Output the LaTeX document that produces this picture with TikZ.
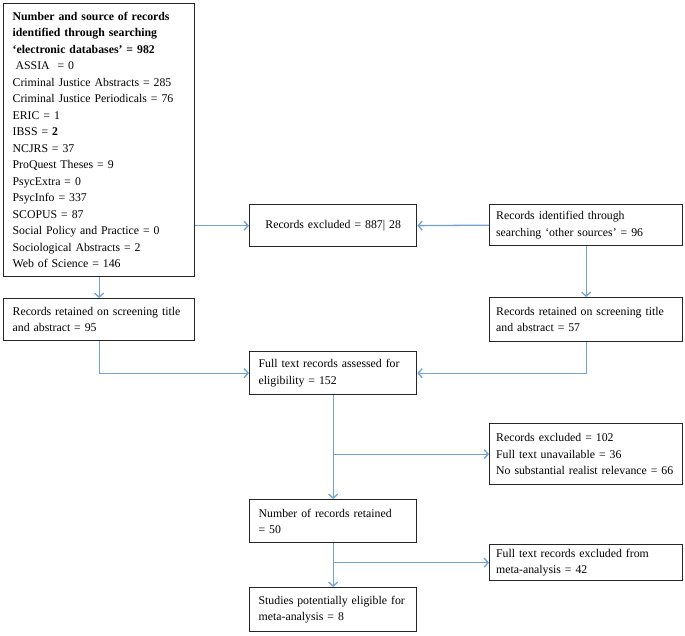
\documentclass[tikz,border=0pt]{standalone}
\usepackage{fontspec}
\setmainfont{Liberation Serif}
\usetikzlibrary{arrows.meta, positioning}
\definecolor{flowblue}{RGB}{112,162,214}

\begin{document}
\begin{tikzpicture}[x=1pt, y=-1pt,
  box/.style={draw=black!85, line width=1.3pt, align=left, anchor=north west,
    inner ysep=2pt, font=\fontsize{11.8}{16.5}\selectfont},
  leftbox/.style={box, text width=173pt, inner xsep=9pt},
  midbox/.style={box, text width=149pt, inner xsep=9pt},
  rightbox/.style={box, text width=180pt, inner xsep=6.5pt},
  flow/.style={flowblue, line width=1.3pt, -{Straight Barb[length=4pt, width=9pt]}}]
  \useasboundingbox (0,0) rectangle (685,636);
  % Database search
  \node[leftbox, minimum height=273pt] (dbs) at (3,3)
    {\textbf{Number and source of records}\\
     \textbf{identified through searching}\\
     \textbf{‘electronic databases’ = 982}\\
     \hspace{3pt}ASSIA\ \ = 0\\
     Criminal Justice Abstracts = 285\\
     Criminal Justice Periodicals = 76\\
     ERIC = 1\\
     IBSS = \textbf{2}\\
     NCJRS = 37\\
     ProQuest Theses = 9\\
     PsycExtra = 0\\
     PsycInfo = 337\\
     SCOPUS = 87\\
     Social Policy and Practice = 0\\
     Sociological Abstracts = 2\\
     Web of Science = 146};
  \node[midbox, align=center, minimum height=42pt] (excl) at (249,204) {Records excluded = 887| 28};
  \node[rightbox, minimum height=41pt] (other) at (489,204)
    {Records identified through\\ searching ‘other sources’ = 96};
  % Screening
  \node[leftbox, minimum height=42pt] (ret1) at (3,298)
    {Records retained on screening title\\ and abstract = 95};
  \node[rightbox, minimum height=44pt] (ret2) at (489,297)
    {Records retained on screening title\\ and abstract = 57};
  % Eligibility
  \node[midbox, minimum height=43pt] (full) at (249,351)
    {Full text records assessed for\\ eligibility = 152};
  \node[rightbox, minimum height=61pt] (excl2) at (489,423)
    {Records excluded = 102\\ Full text unavailable = 36\\ No substantial realist relevance = 66};
  \node[midbox, minimum height=43pt] (kept) at (249,499)
    {Number of records retained\\ = 50};
  \node[rightbox, minimum height=36pt] (excl3) at (489,544)
    {Full text records excluded from\\ meta-analysis = 42};
  \node[midbox, minimum height=44pt] (elig) at (249,587)
    {Studies potentially eligible for\\ meta-analysis = 8};
  % Arrows
  \draw[flow] (dbs.east |- excl.west) -- (excl.west);
  \draw[flow] (other.west) -- (excl.east);
  \draw[flow] (dbs.south) -- (ret1.north);
  \draw[flow] (other.south) -- (ret2.north);
  \draw[flow] (ret1.south) |- (full.west);
  \draw[flow] (ret2.south) |- (full.east);
  \draw[flow] (full.south) -- (kept.north);
  \draw[flow] (full.south |- excl2.west) -- (excl2.west);
  \draw[flow] (kept.south) -- (elig.north);
  \draw[flow] (kept.south |- excl3.west) -- (excl3.west);
\end{tikzpicture}
\end{document}
